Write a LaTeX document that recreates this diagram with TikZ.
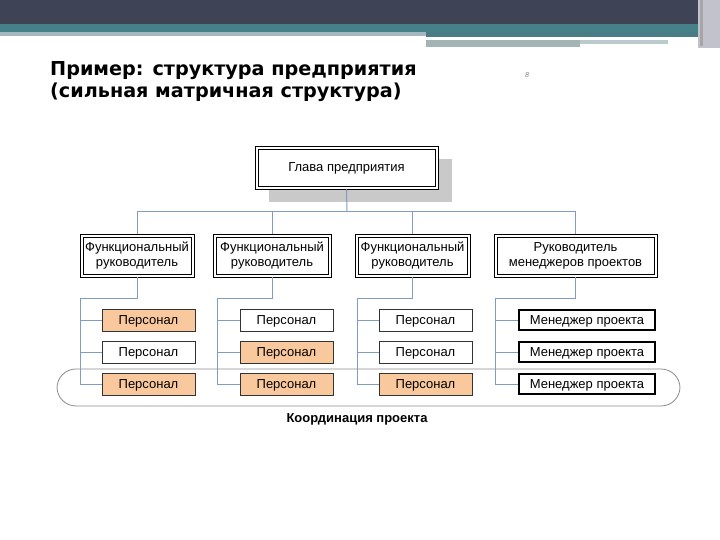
\documentclass[tikz,border=0pt]{standalone}
\usepackage{fontspec}
\setmainfont{Liberation Sans}
\newfontfamily\titlefont{DejaVu Sans}
\usetikzlibrary{shadows}
\definecolor{topdark}{HTML}{3E4456}
\definecolor{topteal}{HTML}{46818A}
\definecolor{topteal2}{HTML}{4A7C85}
\definecolor{topline}{HTML}{A5B8C0}
\definecolor{topgray}{HTML}{A3B4B4}
\definecolor{toplight}{HTML}{BACBCD}
\definecolor{rightstrip}{HTML}{C2C2CC}
\definecolor{conncol}{HTML}{7E9CC4}
\definecolor{peach}{HTML}{F9C89C}
\definecolor{boxline}{HTML}{333333}
\definecolor{bandcol}{HTML}{8A8A8A}
\definecolor{shadowcol}{HTML}{C9C9C9}
\tikzset{
  dblbox/.style={draw=black, line width=0.9pt, fill=white,
    minimum height=43pt, inner sep=0pt, align=center, font=\fontsize{13}{15}\selectfont,
    path picture={\draw[black, line width=0.8pt]
      ([xshift=3pt,yshift=3pt]path picture bounding box.south west) rectangle
      ([xshift=-3pt,yshift=-3pt]path picture bounding box.north east);}},
  onetext/.style={text height=10pt, text depth=1pt},
  staffbox/.style={draw=boxline, line width=0.8pt, fill=white, minimum width=93pt,
    minimum height=22pt, inner sep=0pt, onetext, font=\fontsize{13}{15}\selectfont},
  orangebox/.style={staffbox, fill=peach},
  mgrbox/.style={draw=black, line width=2pt, fill=white, minimum width=136pt,
    minimum height=20pt, inner sep=0pt, onetext, font=\fontsize{13}{15}\selectfont},
  conn/.style={draw=conncol, line width=1pt},
}
\begin{document}
\begin{tikzpicture}[x=1pt,y=-1pt]
\useasboundingbox (0,0) rectangle (720,540);
% header bands
\fill[topdark] (0,0) rectangle (698,24);
\fill[rightstrip] (698,0) rectangle (720,48);
\fill[gray!70] (700,0) rectangle (703,46);
\fill[topteal] (0,24) rectangle (698,32);
\fill[topline] (0,32) rectangle (426,36);
\fill[topteal2] (426,32) rectangle (698,37);
\fill[topgray] (426,40) rectangle (580,47);
\fill[toplight] (580,40) rectangle (668,44);
% title
\node[anchor=base west, inner sep=0pt, align=left, font=\titlefont\bfseries\fontsize{19.2}{21}\selectfont]
  (title) at (50,76) {Пример: структура предприятия};
\node[anchor=base west, inner sep=0pt, align=left, font=\titlefont\bfseries\fontsize{19.2}{21}\selectfont]
  (title2) at (50,97.5) {(сильная матричная структура)};
\node[font=\itshape\fontsize{7}{8}\selectfont, text=gray, inner sep=0pt] (pnum) at (527,75) {8};
% coordination band
\draw[bandcol, line width=0.8pt, rounded corners=19pt] (57,369) rectangle (680,406);
\node[font=\bfseries\fontsize{13}{15}\selectfont, inner sep=0pt] (coord) at (357,419) {Координация проекта};
% head
\node[dblbox, onetext, minimum width=183pt, drop shadow={shadow xshift=14pt, shadow yshift=-13pt, fill=shadowcol, opacity=1}]
  (head) at (346.5,167.5) {Глава предприятия};
% level 2
\node[dblbox, minimum width=114pt] (f1) at (137,255.5) {Функциональный\\руководитель};
\node[dblbox, minimum width=118pt] (f2) at (272,255.5) {Функциональный\\руководитель};
\node[dblbox, minimum width=115pt] (f3) at (412.5,255.5) {Функциональный\\руководитель};
\node[dblbox, minimum width=163pt] (f4) at (575.5,255.5) {Руководитель\\менеджеров проектов};
% staff
\node[orangebox] (s11) at (148.5,320) {Персонал};
\node[staffbox]  (s12) at (148.5,352) {Персонал};
\node[orangebox] (s13) at (148.5,384) {Персонал};
\node[staffbox]  (s21) at (286.5,320) {Персонал};
\node[orangebox] (s22) at (286.5,352) {Персонал};
\node[orangebox] (s23) at (286.5,384) {Персонал};
\node[staffbox]  (s31) at (425.5,320) {Персонал};
\node[staffbox]  (s32) at (425.5,352) {Персонал};
\node[orangebox] (s33) at (425.5,384) {Персонал};
\node[mgrbox] (m1) at (587,320) {Менеджер проекта};
\node[mgrbox] (m2) at (587,352) {Менеджер проекта};
\node[mgrbox] (m3) at (587,384) {Менеджер проекта};
% top connectors
\coordinate (bar) at (347,212);
\draw[conn] (head.south) -- (bar);
\draw[conn] (f1.north) -- (f1.north |- bar) -- (f4.north |- bar) -- (f4.north);
\draw[conn] (f2.north) -- (f2.north |- bar);
\draw[conn] (f3.north) -- (f3.north |- bar);
% column connectors
\coordinate (j1) at (80,298);
\coordinate (j2) at (217,298);
\coordinate (j3) at (357,298);
\coordinate (j4) at (495,298);
\draw[conn] (f1.south) |- (j1) |- (s13.west);
\draw[conn] (j1 |- s11.west) -- (s11.west);
\draw[conn] (j1 |- s12.west) -- (s12.west);
\draw[conn] (f2.south) |- (j2) |- (s23.west);
\draw[conn] (j2 |- s21.west) -- (s21.west);
\draw[conn] (j2 |- s22.west) -- (s22.west);
\draw[conn] (f3.south) |- (j3) |- (s33.west);
\draw[conn] (j3 |- s31.west) -- (s31.west);
\draw[conn] (j3 |- s32.west) -- (s32.west);
\draw[conn] (f4.south) |- (j4) |- (m3.west);
\draw[conn] (j4 |- m1.west) -- (m1.west);
\draw[conn] (j4 |- m2.west) -- (m2.west);
\end{tikzpicture}
\end{document}
